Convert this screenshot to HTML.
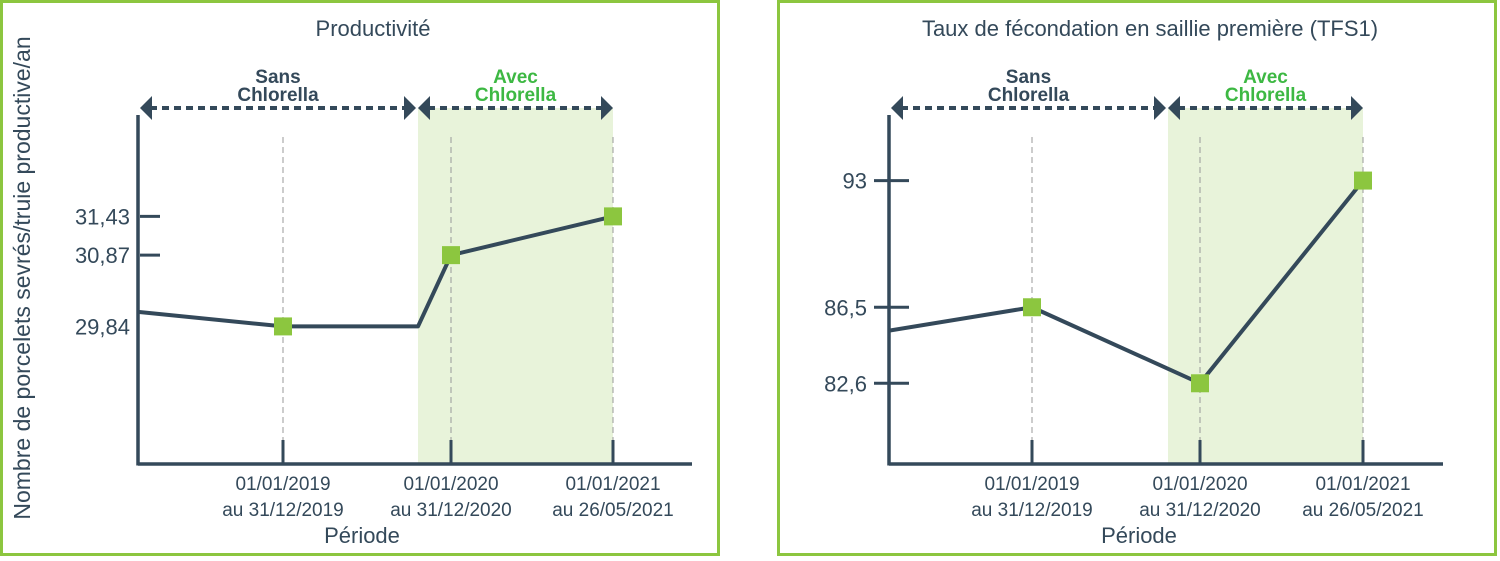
<!DOCTYPE html>
<html><head><meta charset="utf-8"><style>
html,body{margin:0;padding:0;background:#fff;width:1500px;height:561px;overflow:hidden}
svg text{font-family:"Liberation Sans Narrow","Liberation Sans",sans-serif;fill:#34495a}
</style></head><body>
<svg id="c" width="1500" height="561" xmlns="http://www.w3.org/2000/svg"></svg>
<script>
const categories = ["01/01/2019|au 31/12/2019", "01/01/2020|au 31/12/2020", "01/01/2021|au 26/05/2021"];
const prodValues = [29.84, 30.87, 31.43];
const prodStart = 30.05;
const prodTicks = ["31,43", "30,87", "29,84"];
const prodTickValues = [31.43, 30.87, 29.84];
const tfsValues = [86.5, 82.6, 93];
const tfsStart = 85.3;
const tfsTicks = ["93", "86,5", "82,6"];
const tfsTickValues = [93, 86.5, 82.6];

const svg = document.getElementById('c');
const NS = 'http://www.w3.org/2000/svg';
function mk(tag, attrs, parent) {
  const e = document.createElementNS(NS, tag);
  for (const k in attrs) e.setAttribute(k, attrs[k]);
  (parent || svg).appendChild(e);
  return e;
}
const DARK = '#34495a', GREEN = '#8cc63f';

function chart(cfg) {
  const g = mk('g', {});
  
  
  const ox = cfg.ox;
  const panel = mk('rect', {x: ox + 1.5, y: 1.5, width: 717, height: 553, fill: 'none', stroke: GREEN, 'stroke-width': 3}, g);
  
  
  const ax = ox + cfg.axisX, by = 464, top = 115, right = ox + cfg.axisRight;
  const xPos = i => ox + cfg.catX[i];
  const yPos = v => cfg.yMid - cfg.ySlope * (v - cfg.vMid);
  // shade
  const shade = mk('rect', {x: ox + cfg.shadeX, y: 108, width: xPos(2) - (ox + cfg.shadeX), height: by - 108, fill: '#e8f3da'}, g);
  
  
  // title
  const t = mk('text', {x: ox + 373, y: 36, 'text-anchor': 'middle', 'font-size': 22}, g);
  t.textContent = cfg.title;
  
  
  // dashed guides + x ticks + labels
  categories.forEach((c, i) => {
    const x = xPos(i);
    const d = mk('line', {x1: x, y1: 137, x2: x, y2: 440, stroke: '#999', 'stroke-width': 1, 'stroke-dasharray': '6,4'}, g);
    
    
    const tk = mk('line', {x1: x, y1: 440, x2: x, y2: by, stroke: DARK, 'stroke-width': 3}, g);
    
    
    const parts = c.split('|');
    parts.forEach((p, j) => {
      const l = mk('text', {x: x, y: 490 + j * 26, 'text-anchor': 'middle', 'font-size': 19}, g);
      l.textContent = p;
      
      
    });
  });
  // axes
  const ya = mk('line', {x1: ax, y1: top, x2: ax, y2: by + 1.5, stroke: DARK, 'stroke-width': 3.5}, g);
  
  
  const xa = mk('line', {x1: ax, y1: by, x2: right, y2: by, stroke: DARK, 'stroke-width': 3.5}, g);
  
  
  const xt = mk('text', {x: ox + 362, y: 543, 'text-anchor': 'middle', 'font-size': 22}, g);
  xt.textContent = 'Période';
  
  
  // y ticks
  cfg.tickValues.forEach((v, i) => {
    const y = yPos(v);
    if (cfg.showTick[i]) {
      const tk = mk('line', {x1: ax + cfg.tickL, y1: y, x2: ax + cfg.tickR, y2: y, stroke: DARK, 'stroke-width': 3}, g);
      
      
    }
    const l = mk('text', {x: ax + cfg.labelDx, y: y + 8, 'text-anchor': 'end', 'font-size': 22}, g);
    l.textContent = cfg.ticks[i];
    
    
  });
  // arrows
  function arrow(x1, x2, name) {
    const y = 108;
    const ln = mk('line', {x1: x1 + 10, y1: y, x2: x2 - 10, y2: y, stroke: DARK, 'stroke-width': 4, 'stroke-dasharray': '7,5'}, g);
    
    
    const a1 = mk('polygon', {points: `${x1},${y} ${x1 + 12},${y - 12} ${x1 + 12},${y + 12}`, fill: DARK}, g);
    
    
    const a2 = mk('polygon', {points: `${x2},${y} ${x2 - 12},${y - 12} ${x2 - 12},${y + 12}`, fill: DARK}, g);
    
    
  }
  arrow(ax + 2, ox + cfg.shadeX - 2, 'sans-chlorella-arrow');
  arrow(ox + cfg.shadeX + 0, xPos(2), 'avec-chlorella-arrow');
  function label(x, l1, l2, col, name) {
    [l1, l2].forEach((s, j) => {
      const tt = mk('text', {x: x, y: 83 + j * 18, 'text-anchor': 'middle', 'font-size': 19, 'font-weight': 'bold', style: 'fill:' + col}, g);
      tt.textContent = s;
      
      
    });
  }
  label((ax + ox + cfg.shadeX) / 2, 'Sans', 'Chlorella', DARK, 'sans-chlorella-label');
  label((ox + cfg.shadeX + xPos(2)) / 2, 'Avec', 'Chlorella', '#3db843', 'avec-chlorella-label');
  // line
  const pts = [[ax, yPos(cfg.start)], [xPos(0), yPos(cfg.values[0])]];
  if (cfg.flatTo) pts.push([ox + cfg.shadeX, yPos(cfg.values[0])]);
  pts.push([xPos(1), yPos(cfg.values[1])], [xPos(2), yPos(cfg.values[2])]);
  const pl = mk('polyline', {points: pts.map(p => p.join(',')).join(' '), fill: 'none', stroke: DARK, 'stroke-width': 4, 'stroke-linejoin': 'round'}, g);
  
  
  cfg.values.forEach((v, i) => {
    const m = mk('rect', {x: xPos(i) - 9, y: yPos(v) - 9, width: 18, height: 18, fill: GREEN}, g);
    
    
  });
  if (cfg.yTitle) {
    const yt = mk('text', {x: 0, y: 0, 'text-anchor': 'middle', 'font-size': 23, transform: 'translate(30,278) rotate(-90)', style: 'font-family:"Liberation Sans",sans-serif'}, g);
    yt.textContent = cfg.yTitle;
    
    
  }
}

chart({name: 'productivite-chart', ox: 0, axisX: 138, axisRight: 692, catX: [283, 451, 613], shadeX: 418,
  title: 'Productivité', values: prodValues, start: prodStart, ticks: prodTicks, tickValues: prodTickValues,
  yMid: 266, ySlope: 69.2, vMid: 30.713, tickL: 2, tickR: 22, labelDx: -8, showTick: [true, true, false],
  flatTo: true, yTitle: 'Nombre de porcelets sevrés/truie productive/an'});
chart({name: 'tfs1-chart', ox: 777, axisX: 112, axisRight: 666, catX: [255, 423, 586], shadeX: 391,
  title: 'Taux de fécondation en saillie première (TFS1)', values: tfsValues, start: tfsStart, ticks: tfsTicks, tickValues: tfsTickValues,
  yMid: 290.3, ySlope: 19.49, vMid: 87.37, tickL: -15, tickR: 20, labelDx: -22, showTick: [true, true, true],
  flatTo: false});
</script>
</body></html>
